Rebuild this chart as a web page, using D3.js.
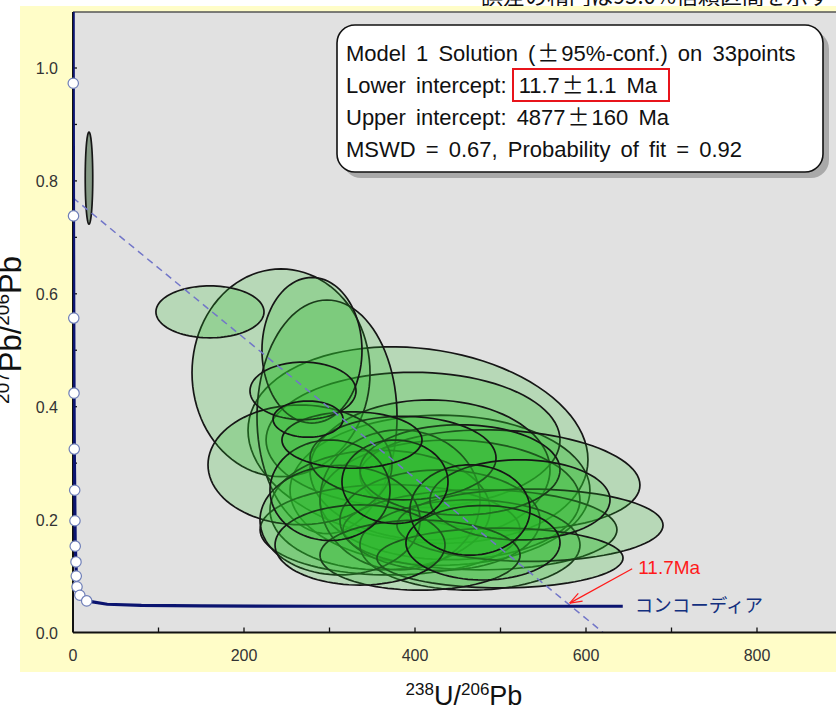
<!DOCTYPE html>
<html><head><meta charset="utf-8">
<script src="https://cdn.jsdelivr.net/npm/d3@7"></script>
<style>body{margin:0;background:#fff}svg{display:block}</style>
</head><body><svg id="c" width="836" height="709"></svg>
<script>
// ---------- data ----------
const xTickValues = [0, 200, 400, 600, 800];
const xMinorTickValues = [100, 200, 300, 400, 500, 600, 700, 800, 900];
const yTickValues = [0.0, 0.2, 0.4, 0.6, 0.8, 1.0];
const yMinorTickValues = [0.1, 0.2, 0.3, 0.4, 0.5, 0.6, 0.7, 0.8, 0.9, 1.0];

// error ellipses: centre (238U/206Pb, 207Pb/206Pb), half-widths, correlation
const ellX  = [18.7,160.2,243.3,279.5,297.1,269.0,274.9,326.3,403.5,397.7,499.4,534.5,476.0,499.4,464.3,376.6,386.0,265.5,312.3,479.5,417.5,440.9,359.1,429.2,335.7,405.9,382.5,452.6,300.6,464.3,522.8,370.8,429.2];
const ellY  = [0.805,0.568,0.460,0.500,0.382,0.428,0.378,0.341,0.332,0.341,0.270,0.190,0.182,0.132,0.155,0.267,0.309,0.297,0.199,0.159,0.288,0.235,0.217,0.199,0.155,0.137,0.235,0.288,0.252,0.217,0.235,0.182,0.252];
const ellSX = [4.4,63.2,104.1,58.5,81.9,62.0,40.9,81.9,198.8,171.9,163.7,155.6,160.2,143.9,128.7,62.0,108.8,107.6,93.6,90.1,140.4,152.0,128.7,117.0,99.4,117.0,93.6,117.0,70.2,70.2,105.3,152.0,175.4];
const ellSY = [0.0815,0.046,0.184,0.129,0.207,0.051,0.032,0.050,0.174,0.120,0.089,0.064,0.071,0.053,0.080,0.074,0.074,0.106,0.097,0.066,0.124,0.106,0.106,0.089,0.071,0.062,0.124,0.080,0.089,0.080,0.071,0.080,0.133];
const ellRho= [0,0,0,0,0,0,0,0,-0.15,0,-0.1,0,0,0,0,0,0,0,0,0,0,0,0,0,0,0,0,0,0,0,0,0,0];

// concordia curve and age markers
const concX = [0.2,0.3,0.6,0.9,1.2,1.5,2.0,2.3,2.6,3.5,3.8,4.7,8,16,40,80,150,300,500,643];
const concY = [1.12,0.973,0.738,0.557,0.424,0.325,0.252,0.198,0.153,0.125,0.100,0.081,0.066,0.056,0.050,0.048,0.047,0.0465,0.0465,0.0465];
const markX = [0.3,0.6,0.9,1.2,1.5,2.0,2.3,2.6,3.5,3.8,4.7,8,16];
const markY = [0.973,0.738,0.557,0.424,0.325,0.252,0.198,0.153,0.125,0.100,0.081,0.066,0.056];

// discordia (regression) line
const upperInterceptY = 0.77;
const discordiaXIntercept = 620;
const lowerInterceptPoint = [581, 0.052];
const annotationStart = [654, 0.113];

const boxLines = ["Model 1 Solution (", "Lower intercept: ", "Upper intercept: 4877", "MSWD = 0.67, Probability of fit = 0.92"];

// ---------- drawing ----------
const svg = d3.select("#c");
const x = d3.scaleLinear().domain([0, 800]).range([73, 757]);
const y = d3.scaleLinear().domain([0, 1]).range([632.5, 68]);
const plotL = 73, plotT = 12, plotB = 632.5, plotR = 900;
const sans = "'Liberation Sans', Arial, sans-serif";
const cjk = "'Noto Sans CJK JP', sans-serif";

svg.append("rect").attr("width", 836).attr("height", 709).attr("fill", "#fff");
// top caption (cut off by the window edge, as in the original)
svg.append("text").attr("x", 830).attr("y", 4).attr("text-anchor", "end")
  .attr("font-family", cjk).attr("font-size", 22).attr("fill", "#111")
  .text("誤差の楕円は95.0%信頼区間を示す");
svg.append("rect").attr("x", 20).attr("y", 6).attr("width", 830).attr("height", 666).attr("fill", "#fffdc8");
svg.append("rect").attr("x", plotL).attr("y", plotT).attr("width", plotR - plotL).attr("height", plotB - plotT).attr("fill", "#e1e1e1");

const defs = svg.append("defs");
defs.append("clipPath").attr("id", "clip").append("rect")
  .attr("x", plotL).attr("y", plotT).attr("width", plotR - plotL).attr("height", plotB - plotT);
const g = svg.append("g").attr("clip-path", "url(#clip)");

// ellipses
const idx = d3.range(ellX.length).sort((a, b) => ellSX[b] * ellSY[b] - ellSX[a] * ellSY[a]);
const ts = d3.range(0, 2 * Math.PI, Math.PI / 48);
const line = d3.line().curve(d3.curveLinearClosed);
idx.forEach(i => {
  const r = ellRho[i], k = Math.sqrt(1 - r * r);
  const pts = ts.map(t => [x(ellX[i] + ellSX[i] * Math.cos(t)), y(ellY[i] + ellSY[i] * (r * Math.cos(t) + k * Math.sin(t)))]);
  g.append("path").attr("d", line(pts))
    .attr("fill", i === 0 ? "#4a6a4a" : "#2db82d").attr("fill-opacity", i === 0 ? 0.6 : 0.23)
    .attr("stroke", "#161616").attr("stroke-width", 1.7);
});

// discordia
g.append("line").attr("x1", x(0)).attr("y1", y(upperInterceptY))
  .attr("x2", x(discordiaXIntercept)).attr("y2", y(0))
  .attr("stroke", "#7276c8").attr("stroke-width", 1.5).attr("stroke-dasharray", "7,5");

// axes frame
svg.append("line").attr("x1", plotL).attr("x2", 836).attr("y1", plotT).attr("y2", plotT).attr("stroke", "#555").attr("stroke-width", 1.5);
svg.append("line").attr("x1", plotL).attr("x2", 836).attr("y1", plotB).attr("y2", plotB).attr("stroke", "#111").attr("stroke-width", 2);
svg.append("line").attr("x1", plotL).attr("x2", plotL).attr("y1", plotT).attr("y2", plotB).attr("stroke", "#111").attr("stroke-width", 2);

// ticks
xMinorTickValues.forEach(v => svg.append("line").attr("x1", x(v)).attr("x2", x(v)).attr("y1", plotB).attr("y2", plotB - 5).attr("stroke", "#111").attr("stroke-width", 1.3));
yMinorTickValues.forEach(v => svg.append("line").attr("x1", plotL).attr("x2", plotL + 4).attr("y1", y(v)).attr("y2", y(v)).attr("stroke", "#111").attr("stroke-width", 1.3));
xTickValues.forEach(v => svg.append("text").attr("x", x(v)).attr("y", 661).attr("text-anchor", "middle")
  .attr("font-family", sans).attr("font-size", 16).attr("fill", "#333").text(d3.format("d")(v)));
yTickValues.forEach(v => svg.append("text").attr("x", 58).attr("y", y(v) + 6).attr("text-anchor", "end")
  .attr("font-family", sans).attr("font-size", 16).attr("fill", "#333").text(d3.format(".1f")(v)));

// concordia
const cg = svg.append("g").attr("clip-path", "url(#clip)");
cg.append("path").attr("d", d3.line()(concX.map((d, i) => [x(d), y(concY[i])])))
  .attr("fill", "none").attr("stroke", "#0b1470").attr("stroke-width", 3.2);
markX.forEach((d, i) => svg.append("circle").attr("cx", x(d)).attr("cy", y(markY[i])).attr("r", 5.2)
  .attr("fill", "#fff").attr("stroke", "#6f7fb8").attr("stroke-width", 1.2));

// annotation arrow
const ax1 = x(annotationStart[0]), ay1 = y(annotationStart[1]);
const ax2 = x(lowerInterceptPoint[0]), ay2 = y(lowerInterceptPoint[1]);
svg.append("line").attr("x1", ax1).attr("y1", ay1).attr("x2", ax2).attr("y2", ay2).attr("stroke", "#ff1a1a").attr("stroke-width", 1.2);
const ang = Math.atan2(ay1 - ay2, ax1 - ax2);
[0.35, -0.35].forEach(a => svg.append("line").attr("x1", ax2).attr("y1", ay2)
  .attr("x2", ax2 + 13 * Math.cos(ang + a)).attr("y2", ay2 + 13 * Math.sin(ang + a))
  .attr("stroke", "#ff1a1a").attr("stroke-width", 1.2));
svg.append("text").attr("x", ax1 + 6).attr("y", ay1 + 5).attr("font-family", sans).attr("font-size", 19)
  .attr("fill", "#ff1a1a").text("11.7Ma");
svg.append("text").attr("x", x(concX[concX.length - 1]) + 12).attr("y", y(concY[concY.length - 1]) + 6)
  .attr("font-family", cjk).attr("font-size", 18.5).attr("fill", "#13307f").text("コンコーディア");

// result box
svg.append("rect").attr("x", 343).attr("y", 31).attr("width", 486).attr("height", 147).attr("rx", 18).attr("fill", "#a9a9a9");
svg.append("rect").attr("x", 337).attr("y", 25).attr("width", 486).attr("height", 147).attr("rx", 18)
  .attr("fill", "#fff").attr("stroke", "#111").attr("stroke-width", 1.6);
const bt = (yy) => svg.append("text").attr("x", 346).attr("y", yy).attr("font-family", sans).attr("font-size", 22)
  .attr("word-spacing", 4).attr("fill", "#111");
const pm = (t) => t.append("tspan").attr("font-family", cjk).attr("dx", 2).text("±");
let t1 = bt(61); t1.append("tspan").text(boxLines[0]); pm(t1); t1.append("tspan").attr("dx", 2).text("95%-conf.) on 33points");
let t2 = bt(93); t2.append("tspan").text(boxLines[1]); t2.append("tspan").attr("dx", 2).text("11.7"); pm(t2); t2.append("tspan").attr("dx", 2).text("1.1 Ma");
let t3 = bt(125); t3.append("tspan").text(boxLines[2]); pm(t3); t3.append("tspan").attr("dx", 2).text("160 Ma");
bt(157).text(boxLines[3]);
svg.append("rect").attr("x", 513).attr("y", 69).attr("width", 156).attr("height", 32).attr("fill", "none").attr("stroke", "#e8141b").attr("stroke-width", 2);

// axis titles
const xt = svg.append("text").attr("x", 464).attr("y", 705).attr("text-anchor", "middle").attr("font-family", sans).attr("font-size", 27).attr("fill", "#111");
xt.append("tspan").attr("font-size", 17).attr("dy", -10).text("238");
xt.append("tspan").attr("dy", 10).text("U/");
xt.append("tspan").attr("font-size", 17).attr("dy", -10).text("206");
xt.append("tspan").attr("dy", 10).text("Pb");
const yt = svg.append("text").attr("transform", "translate(21,330) rotate(-90)").attr("text-anchor", "middle").attr("font-family", sans).attr("font-size", 31).attr("fill", "#111");
yt.append("tspan").attr("font-size", 19).attr("dy", -12).text("207");
yt.append("tspan").attr("dy", 12).text("Pb/");
yt.append("tspan").attr("font-size", 19).attr("dy", -12).text("206");
yt.append("tspan").attr("dy", 12).text("Pb");
</script></body></html>
